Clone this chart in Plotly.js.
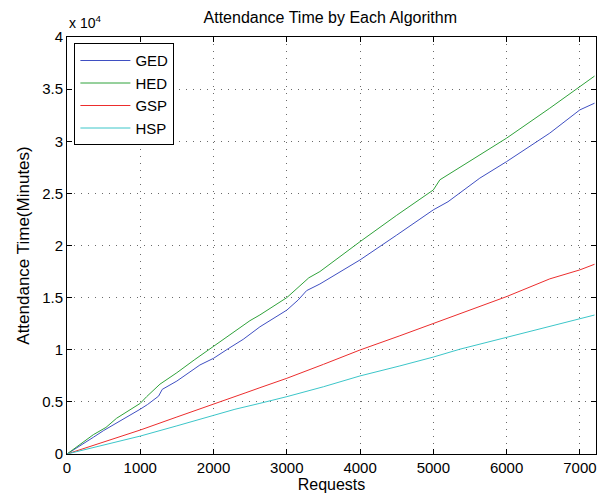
<!DOCTYPE html>
<html>
<head>
<meta charset="utf-8">
<script src="https://cdn.plot.ly/plotly-3.0.1.min.js"></script>
<style>html,body{margin:0;padding:0;background:#fff;}#chart{width:606px;height:496px;}</style>
</head>
<body>
<div id="chart"></div>
<script>
// Data (requests vs attendance time in minutes)
const gedX = [0, 200, 359, 500, 677, 800, 1000, 1100, 1200, 1250, 1300, 1500, 1814, 2000, 2200, 2405, 2633, 3000, 3156, 3270, 3452, 4000, 4500, 5000, 5200, 5634, 6000, 6589, 7000, 7200];
const gedY = [0, 850, 1600, 2250, 2950, 3500, 4300, 4750, 5250, 5550, 6200, 7000, 8540, 9180, 10100, 11000, 12200, 13800, 14780, 15670, 16310, 18620, 21000, 23420, 24200, 26460, 28050, 30780, 33010, 33650];

const hedX = [0, 200, 359, 532, 677, 1000, 1087, 1269, 1500, 1736, 2000, 2133, 2497, 2633, 3000, 3300, 3452, 4000, 4500, 5000, 5089, 5500, 6000, 6589, 7000, 7200];
const hedY = [0, 1000, 1850, 2550, 3430, 4860, 5500, 6700, 7800, 9020, 10300, 11000, 12790, 13340, 15000, 16900, 17500, 20370, 22900, 25330, 26300, 28100, 30300, 33170, 35250, 36250];

const gspX = [0, 500, 1000, 1500, 1814, 2000, 2442, 2633, 3000, 3500, 4000, 4543, 5000, 5500, 6000, 6589, 7000, 7200];
const gspY = [0, 1150, 2300, 3550, 4350, 4750, 5880, 6360, 7260, 8600, 9980, 11340, 12500, 13800, 15100, 16800, 17660, 18200];

const hspX = [0, 500, 1000, 1500, 2000, 2292, 2633, 3000, 3500, 4000, 4543, 5000, 5361, 6000, 6500, 7000, 7200];
const hspY = [0, 850, 1720, 2700, 3700, 4290, 4860, 5500, 6450, 7490, 8450, 9300, 10050, 11200, 12050, 12930, 13330];

const seriesNames = ["GED", "HED", "GSP", "HSP"];
const xTickVals = [0, 1000, 2000, 3000, 4000, 5000, 6000, 7000];
const yTickVals = [0, 5000, 10000, 15000, 20000, 25000, 30000, 35000, 40000];
const yTickText = ["0", "0.5", "1", "1.5", "2", "2.5", "3", "3.5", "4"];

const colors = ["#3f4fc2", "#2fa23a", "#ec2d2d", "#3cc6c9"];
const FONT = "Liberation Sans, Arial, Helvetica, sans-serif";

const traces = [
  {x: gedX, y: gedY, name: seriesNames[0]},
  {x: hedX, y: hedY, name: seriesNames[1]},
  {x: gspX, y: gspY, name: seriesNames[2]},
  {x: hspX, y: hspY, name: seriesNames[3]}
].map((t, i) => Object.assign(t, {type: "scatter", mode: "lines", line: {color: colors[i], width: 1}}));

const axisCommon = {
  showline: true, linecolor: "#000", linewidth: 1, mirror: "allticks",
  ticks: "inside", ticklen: 5, tickcolor: "#000", tickwidth: 1,
  showgrid: true, gridcolor: "#6a6a6a", griddash: "1px,6px", gridwidth: 1,
  zeroline: false, tickfont: {family: FONT, size: 15, color: "#000"}
};

const layout = {
  width: 606, height: 496,
  margin: {l: 67, r: 10, t: 37, b: 42},
  paper_bgcolor: "#fff", plot_bgcolor: "#fff",
  font: {family: FONT, color: "#000"},
  title: {text: "Attendance Time by Each Algorithm", font: {family: FONT, size: 16, color: "#000"}, x: 0.545, xanchor: "center", y: 0.965, yanchor: "middle"},
  xaxis: Object.assign({}, axisCommon, {
    range: [0, 7220], tickvals: xTickVals, ticktext: xTickVals.map(String),
    title: {text: "Requests", font: {family: FONT, size: 16, color: "#000"}, standoff: 2}
  }),
  yaxis: Object.assign({}, axisCommon, {
    range: [0, 40000], tickvals: yTickVals, ticktext: yTickText,
    title: {text: "Attendance Time(Minutes)", font: {family: FONT, size: 17, color: "#000"}, standoff: 8}
  }),
  showlegend: true,
  legend: {
    x: 0.014, y: 0.985, xanchor: "left", yanchor: "top",
    bgcolor: "#fff", bordercolor: "#000", borderwidth: 1,
    itemwidth: 50,
    font: {family: FONT, size: 15, color: "#000"}
  },
  annotations: [{
    text: "x 10<sup>4</sup>", xref: "paper", yref: "paper", x: 0, y: 1, xanchor: "left", yanchor: "bottom",
    yshift: 4, showarrow: false, font: {family: FONT, size: 14, color: "#000"}
  }]
};

Plotly.newPlot("chart", traces, layout, {displayModeBar: false, staticPlot: true});
</script>
</body>
</html>
